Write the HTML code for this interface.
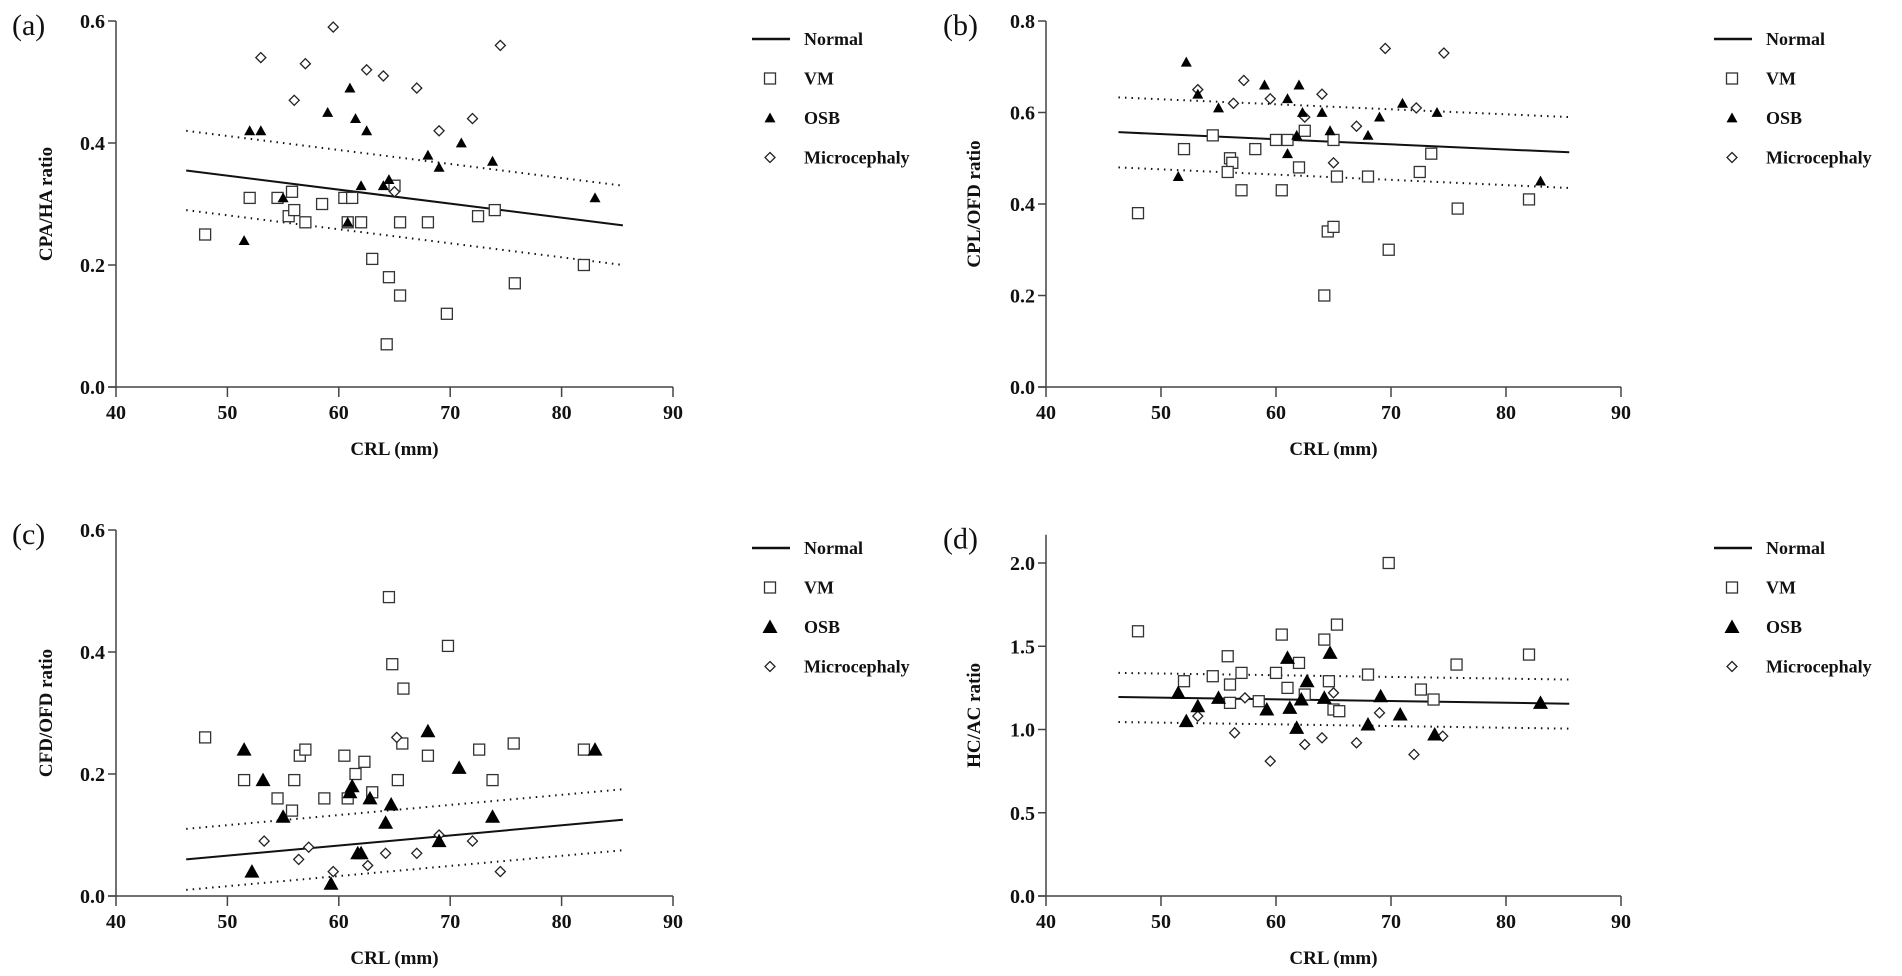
<!DOCTYPE html>
<html><head><meta charset="utf-8"><style>
html,body{margin:0;padding:0;background:#fff;width:1902px;height:976px;overflow:hidden}
svg text{font-family:"Liberation Serif",serif;fill:#111}
</style></head><body>
<svg id="fig" width="1902" height="976" viewBox="0 0 1902 976" xmlns="http://www.w3.org/2000/svg"></svg>
<script>
// ---- Panel (a) CPA/HA ----
const aVMx=[48,52,54.5,55.5,55.8,56,57,58.5,60.5,61.2,60.8,62,63,64.5,64.3,65,65.5,65.5,69.7,68,72.5,74,75.8,82];
const aVMy=[0.25,0.31,0.31,0.28,0.32,0.29,0.27,0.30,0.31,0.31,0.27,0.27,0.21,0.18,0.07,0.33,0.27,0.15,0.12,0.27,0.28,0.29,0.17,0.20];
const aOSBx=[51.5,52,53,55,59,61,61.5,62.5,62,60.8,64,64.5,68,69,71,73.8,83];
const aOSBy=[0.24,0.42,0.42,0.31,0.45,0.49,0.44,0.42,0.33,0.27,0.33,0.34,0.38,0.36,0.40,0.37,0.31];
const aMCx=[53,56,57,59.5,62.5,64,67,69,72,74.5,65];
const aMCy=[0.54,0.47,0.53,0.59,0.52,0.51,0.49,0.42,0.44,0.56,0.32];
const aLine=[0.355,0.265], aUp=[0.42,0.33], aLo=[0.29,0.20];
// ---- Panel (b) CPL/OFD ----
const bVMx=[48,52,54.5,56,56.2,55.8,57,58.2,60,60.5,61,62,62.5,64.2,64.5,65,65,65.3,68,69.8,72.5,73.5,75.8,82];
const bVMy=[0.38,0.52,0.55,0.50,0.49,0.47,0.43,0.52,0.54,0.43,0.54,0.48,0.56,0.20,0.34,0.35,0.54,0.46,0.46,0.30,0.47,0.51,0.39,0.41];
const bOSBx=[51.5,52.2,53.2,55,59,61,61,62,62.3,64,64.7,61.8,68,69,71,74,83];
const bOSBy=[0.46,0.71,0.64,0.61,0.66,0.51,0.63,0.66,0.60,0.60,0.56,0.55,0.55,0.59,0.62,0.60,0.45];
const bMCx=[53.2,56.3,57.2,59.5,62.5,64,65,67,69.5,72.2,74.6];
const bMCy=[0.65,0.62,0.67,0.63,0.59,0.64,0.49,0.57,0.74,0.61,0.73];
const bLine=[0.557,0.513], bUp=[0.633,0.59], bLo=[0.48,0.435];
// ---- Panel (c) CFD/OFD ----
const cVMx=[48,51.5,54.5,55.8,56,56.5,57,58.7,60.5,60.8,61.5,62.3,63,64.5,64.8,65.3,65.7,65.8,68,69.8,72.6,73.8,75.7,82];
const cVMy=[0.26,0.19,0.16,0.14,0.19,0.23,0.24,0.16,0.23,0.16,0.20,0.22,0.17,0.49,0.38,0.19,0.25,0.34,0.23,0.41,0.24,0.19,0.25,0.24];
const cOSBx=[51.5,52.2,53.2,55,59.3,61,61.2,61.7,62,62.8,64.2,64.7,68,69,70.8,73.8,83];
const cOSBy=[0.24,0.04,0.19,0.13,0.02,0.17,0.18,0.07,0.07,0.16,0.12,0.15,0.27,0.09,0.21,0.13,0.24];
const cMCx=[53.3,56.4,57.3,59.5,62.6,64.2,65.2,67,69,72,74.5];
const cMCy=[0.09,0.06,0.08,0.04,0.05,0.07,0.26,0.07,0.10,0.09,0.04];
const cLine=[0.06,0.125], cUp=[0.11,0.175], cLo=[0.01,0.075];
// ---- Panel (d) HC/AC ----
const dVMx=[48,52,54.5,55.8,56,57,56,58.5,60,60.5,61,62,62.5,64.2,64.6,65,65.3,65.5,68,69.8,72.6,73.7,75.7,82];
const dVMy=[1.59,1.29,1.32,1.44,1.27,1.34,1.16,1.17,1.34,1.57,1.25,1.40,1.21,1.54,1.29,1.12,1.63,1.11,1.33,2.0,1.24,1.18,1.39,1.45];
const dOSBx=[51.5,52.2,53.2,55,59.2,61,61.2,61.8,62.2,62.7,64.2,64.7,68,69.1,70.8,73.8,83];
const dOSBy=[1.22,1.05,1.14,1.19,1.12,1.43,1.13,1.01,1.18,1.29,1.19,1.46,1.03,1.20,1.09,0.97,1.16];
const dMCx=[53.2,56.4,57.3,59.5,62.5,64,65,67,69,72,74.5];
const dMCy=[1.08,0.98,1.19,0.81,0.91,0.95,1.22,0.92,1.10,0.85,0.96];
const dLine=[1.195,1.155], dUp=[1.34,1.30], dLo=[1.045,1.005];
const xTicks=[40,50,60,70,80,90];
const aTicks=[0,0.2,0.4,0.6], bTicks=[0,0.2,0.4,0.6,0.8], cTicks=[0,0.2,0.4,0.6], dTicks=[0,0.5,1.0,1.5,2.0];
const legendLabels=['Normal','VM','OSB','Microcephaly'];
const lineX=[46.3,85.5];

const NS='http://www.w3.org/2000/svg';
const svg=document.getElementById('fig');
function el(tag,attrs,parent,txt){const e=document.createElementNS(NS,tag);for(const k in attrs)e.setAttribute(k,attrs[k]);if(txt!==undefined)e.textContent=txt;(parent||svg).appendChild(e);return e;}

function marker(g,type,cx,cy,big){
  let e;
  if(type==='sq'){e=el('rect',{x:cx-5.5,y:cy-5.5,width:11,height:11,fill:'#fff',stroke:'#333','stroke-width':1.3},g);}
  else if(type==='tri'){const s=big?7.5:5.5;e=el('polygon',{points:`${cx},${cy-s} ${cx+s},${cy+s*0.8} ${cx-s},${cy+s*0.8}`,fill:'#000'},g);}
  else {const s=5;e=el('polygon',{points:`${cx},${cy-s} ${cx+s},${cy} ${cx},${cy+s} ${cx-s},${cy}`,fill:'#fff',stroke:'#222','stroke-width':1.3},g);}
  return e;
}

function panel(p){
  const g=el('g',{});
  
  
  const X=v=>p.x0+(v-40)/50*(p.x1-p.x0);
  const Y=v=>p.y0-(v)/p.ymax*(p.y0-p.ytop);
  const ya=el('line',{x1:X(40),y1:p.y0,x2:X(40),y2:Y(p.axisTop),stroke:'#444','stroke-width':1.5},g);
  
  const xa=el('line',{x1:X(40)-8,y1:p.y0,x2:X(90),y2:p.y0,stroke:'#444','stroke-width':1.5},g);
  
  xTicks.forEach(t=>{
    el('line',{x1:X(t),y1:p.y0,x2:X(t),y2:p.y0+10,stroke:'#444','stroke-width':1.5},g);
    const tl=el('text',{x:X(t),y:p.y0+32,'text-anchor':'middle','font-size':20,'font-weight':'bold'},g,String(t));
    
  });
  p.ticks.forEach(t=>{
    el('line',{x1:X(40)-8,y1:Y(t),x2:X(40),y2:Y(t),stroke:'#444','stroke-width':1.5},g);
    const tl=el('text',{x:X(40)-11,y:Y(t)+7,'text-anchor':'end','font-size':20,'font-weight':'bold'},g,t.toFixed(1));
    
  });
  const yt=el('text',{x:0,y:0,transform:`translate(${p.ytx},${(p.y0+Y(p.axisTop))/2}) rotate(-90)`,'text-anchor':'middle','font-size':19,'font-weight':'bold'},g,p.ytitle);
  
  const xt=el('text',{x:(X(40)+X(90))/2,y:p.y0+68,'text-anchor':'middle','font-size':19,'font-weight':'bold'},g,'CRL (mm)');
  
  const pl=el('text',{x:p.lx,y:Y(p.axisTop)+14,'font-size':30},g,'('+p.id+')');
  
  const nl=el('line',{x1:X(lineX[0]),y1:Y(p.line[0]),x2:X(lineX[1]),y2:Y(p.line[1]),stroke:'#111','stroke-width':2},g);
  
  [p.up,p.lo].forEach((l,i)=>{
    const d=el('line',{x1:X(lineX[0]),y1:Y(l[0]),x2:X(lineX[1]),y2:Y(l[1]),stroke:'#111','stroke-width':2,'stroke-dasharray':'1.5 5'},g);
    
  });
  p.vmx.forEach((v,i)=>{const m=marker(g,'sq',X(v),Y(p.vmy[i]));});
  p.mcx.forEach((v,i)=>{const m=marker(g,'dia',X(v),Y(p.mcy[i]));});
  p.osbx.forEach((v,i)=>{const m=marker(g,'tri',X(v),Y(p.osby[i]),p.big);});
  const lg=el('g',{},g);
  
  legendLabels.forEach((lab,i)=>{
    const y=p.legY+i*39.5, mx=p.legX+18;
    const ent=el('g',{},lg);
    
    if(i===0) el('line',{x1:p.legX,y1:y,x2:p.legX+38,y2:y,stroke:'#111','stroke-width':2.5},ent);
    else marker(ent,['sq','tri','dia'][i-1],mx,y,p.big);
    el('text',{x:p.legX+52,y:y+6,'font-size':18,'font-weight':'bold'},ent,lab);
  });
}
const tx=[116,673], tb=[1046,1621];
panel({id:'a',x0:tx[0],x1:tx[1],y0:387,ytop:21,ymax:0.6,axisTop:0.6,ticks:aTicks,ytitle:'CPA/HA ratio',ytx:52,lx:12,line:aLine,up:aUp,lo:aLo,vmx:aVMx,vmy:aVMy,osbx:aOSBx,osby:aOSBy,mcx:aMCx,mcy:aMCy,legX:752,legY:39,big:false});
panel({id:'b',x0:tb[0],x1:tb[1],y0:387,ytop:21,ymax:0.8,axisTop:0.8,ticks:bTicks,ytitle:'CPL/OFD ratio',ytx:980,lx:943,line:bLine,up:bUp,lo:bLo,vmx:bVMx,vmy:bVMy,osbx:bOSBx,osby:bOSBy,mcx:bMCx,mcy:bMCy,legX:1714,legY:39,big:false});
panel({id:'c',x0:tx[0],x1:tx[1],y0:896,ytop:530,ymax:0.6,axisTop:0.6,ticks:cTicks,ytitle:'CFD/OFD ratio',ytx:52,lx:12,line:cLine,up:cUp,lo:cLo,vmx:cVMx,vmy:cVMy,osbx:cOSBx,osby:cOSBy,mcx:cMCx,mcy:cMCy,legX:752,legY:548,big:true});
panel({id:'d',x0:tb[0],x1:tb[1],y0:896,ytop:563,ymax:2.0,axisTop:2.17,ticks:dTicks,ytitle:'HC/AC ratio',ytx:980,lx:943,line:dLine,up:dUp,lo:dLo,vmx:dVMx,vmy:dVMy,osbx:dOSBx,osby:dOSBy,mcx:dMCx,mcy:dMCy,legX:1714,legY:548,big:true});
</script>
</body></html>
